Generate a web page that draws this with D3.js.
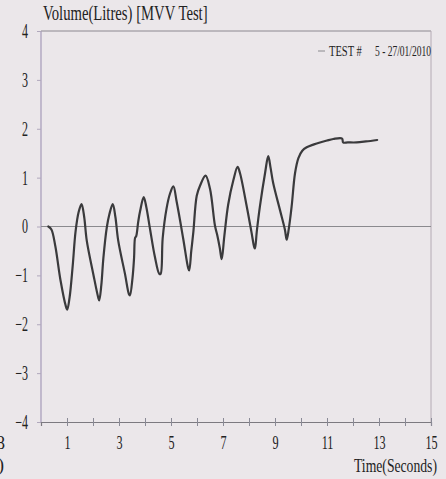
<!DOCTYPE html>
<html>
<head>
<meta charset="utf-8">
<script src="https://cdn.jsdelivr.net/npm/d3@7"></script>
<style>
  html, body { margin: 0; padding: 0; background: #ebe7ea; }
  svg { display: block; }
  text { font-family: "Liberation Serif", "Times New Roman", serif; fill: #222; }
</style>
</head>
<body>
<svg id="chart" width="446" height="479"></svg>
<script>
// MVV trace (seconds, litres)
var timeSec = [0.28, 0.40, 0.55, 0.75, 0.95, 1.01, 1.10, 1.22, 1.33, 1.45, 1.56,
    1.66, 1.76, 2.01, 2.20, 2.24, 2.32, 2.40, 2.53, 2.63, 2.76,
    2.86, 2.97, 3.23, 3.38, 3.42, 3.52, 3.58, 3.62, 3.66, 3.74, 3.81, 3.95,
    4.05, 4.19, 4.38, 4.55, 4.60, 4.68, 4.83, 4.96, 5.09,
    5.22, 5.47, 5.66, 5.70, 5.78, 5.86, 5.99, 6.12, 6.33,
    6.50, 6.69, 6.78, 6.88, 6.95, 7.05, 7.20, 7.40, 7.56,
    7.65, 7.91, 8.10, 8.20, 8.23, 8.30, 8.42, 8.62, 8.74,
    8.83, 8.93, 9.19, 9.38, 9.45, 9.53, 9.64, 9.77, 9.90, 10.05, 10.22,
    10.50, 10.73, 11.00, 11.24, 11.58, 11.62, 11.80, 12.14, 12.50, 12.93];
var volumeL = [0.00, -0.06, -0.40, -1.10, -1.62, -1.70, -1.45, -0.80, -0.10, 0.30, 0.46,
    0.20, -0.29, -0.97, -1.45, -1.51, -1.20, -0.64, -0.02, 0.25, 0.46,
    0.20, -0.29, -0.97, -1.38, -1.41, -1.05, -0.64, -0.23, -0.20, 0.10, 0.31, 0.60,
    0.40, -0.04, -0.62, -0.97, -0.97, -0.24, 0.37, 0.67, 0.82,
    0.50, -0.25, -0.85, -0.90, -0.50, -0.11, 0.63, 0.84, 1.04,
    0.77, 0.02, -0.18, -0.45, -0.67, -0.20, 0.45, 0.95, 1.22,
    1.10, 0.42, -0.13, -0.42, -0.45, -0.10, 0.41, 1.10, 1.44,
    1.20, 0.89, 0.34, -0.06, -0.27, -0.05, 0.41, 1.09, 1.40, 1.55, 1.62,
    1.68, 1.72, 1.76, 1.79, 1.80, 1.72, 1.72, 1.72, 1.74, 1.77];

var yTicks = [-4, -3, -2, -1, 0, 1, 2, 3, 4];
var xTicks = [1, 2, 3, 4, 5, 6, 7, 8, 9, 10, 11, 12, 13, 14, 15];
var xTickLabels = ["1", "", "3", "", "5", "", "7", "", "9", "", "11", "", "13", "", "15"];

var svg = d3.select("#chart");

var x = d3.scaleLinear().domain([0, 15]).range([41, 431]);
var y = d3.scaleLinear().domain([-4, 4]).range([422, 31]);

// squeeze text horizontally about its own x, the printout font is a narrow one
function condense(sel, f) {
    sel.each(function() {
        var cx = +d3.select(this).attr("x") || 0;
        d3.select(this).attr("transform",
            "translate(" + cx + ",0) scale(" + f + ",1) translate(" + (-cx) + ",0)");
    });
}

// frame
svg.append("line").attr("x1", x(0)).attr("x2", x(15)).attr("y1", y(4)).attr("y2", y(4))
    .attr("stroke", "#8c8890").attr("stroke-width", 1);
svg.append("line").attr("x1", x(15)).attr("x2", x(15)).attr("y1", y(4)).attr("y2", y(-4))
    .attr("stroke", "#b4aab4").attr("stroke-width", 1);
svg.append("line").attr("x1", x(0)).attr("x2", x(0)).attr("y1", y(4)).attr("y2", y(-4))
    .attr("stroke", "#a49ab8").attr("stroke-width", 1.2);

// zero line
svg.append("line").attr("x1", x(0)).attr("x2", x(15)).attr("y1", y(0)).attr("y2", y(0))
    .attr("stroke", "#8a8a8e").attr("stroke-width", 1.2);

// y axis
var yAxis = svg.append("g").attr("transform", "translate(" + x(0) + ",0)")
    .call(d3.axisLeft(y).tickValues(yTicks).tickSize(4).tickPadding(9).tickFormat(d3.format("d")));
yAxis.select(".domain").remove();
yAxis.selectAll(".tick line").attr("stroke", "#b0a8bc");
yAxis.selectAll(".tick text").attr("font-size", 20).attr("fill", "#222")
    .attr("font-family", "Liberation Serif").call(condense, 0.6);

// x axis
var xAxis = svg.append("g").attr("transform", "translate(0," + y(-4) + ")")
    .call(d3.axisBottom(x).tickValues(xTicks).tickSize(4).tickPadding(10)
        .tickFormat(function(d, i) { return xTickLabels[i]; }));
xAxis.select(".domain").attr("stroke", "#7c7a80").attr("stroke-width", 1.2);
xAxis.selectAll(".tick line").attr("y1", -4).attr("y2", 4).attr("stroke", "#8a8a96");
xAxis.selectAll(".tick text").attr("font-size", 19).attr("fill", "#222")
    .attr("font-family", "Liberation Serif").call(condense, 0.64);

// trace
var pts = timeSec.map(function(t, i) { return [t, volumeL[i]]; });
var line = d3.line()
    .x(function(d) { return x(d[0]); })
    .y(function(d) { return y(d[1]); })
    .curve(d3.curveCatmullRom.alpha(0.5));
svg.append("path").datum(pts).attr("d", line)
    .attr("fill", "none").attr("stroke", "#3a3a3c").attr("stroke-width", 2.2)
    .attr("stroke-linejoin", "round").attr("stroke-linecap", "round");

// titles
svg.append("text").attr("x", 43).attr("y", 20).attr("font-size", 21)
    .text("Volume(Litres) [MVV Test]").call(condense, 0.7);
svg.append("text").attr("x", 437).attr("y", 472).attr("text-anchor", "end").attr("font-size", 18)
    .text("Time(Seconds)").call(condense, 0.76);

// legend
svg.append("line").attr("x1", 318).attr("x2", 325).attr("y1", 51).attr("y2", 51)
    .attr("stroke", "#8a8a8e").attr("stroke-width", 1);
svg.append("text").attr("x", 329).attr("y", 56).attr("font-size", 14)
    .text("TEST #").call(condense, 0.75);
svg.append("text").attr("x", 375).attr("y", 56).attr("font-size", 14)
    .text("5 - 27/01/2010").call(condense, 0.68);

// bits of the neighbouring chart cut off at the left edge
svg.append("text").attr("x", 5).attr("y", 449).attr("text-anchor", "end").attr("font-size", 18).text("8");
svg.append("text").attr("x", 4).attr("y", 471).attr("text-anchor", "end").attr("font-size", 18).text(")");
</script>
</body>
</html>
